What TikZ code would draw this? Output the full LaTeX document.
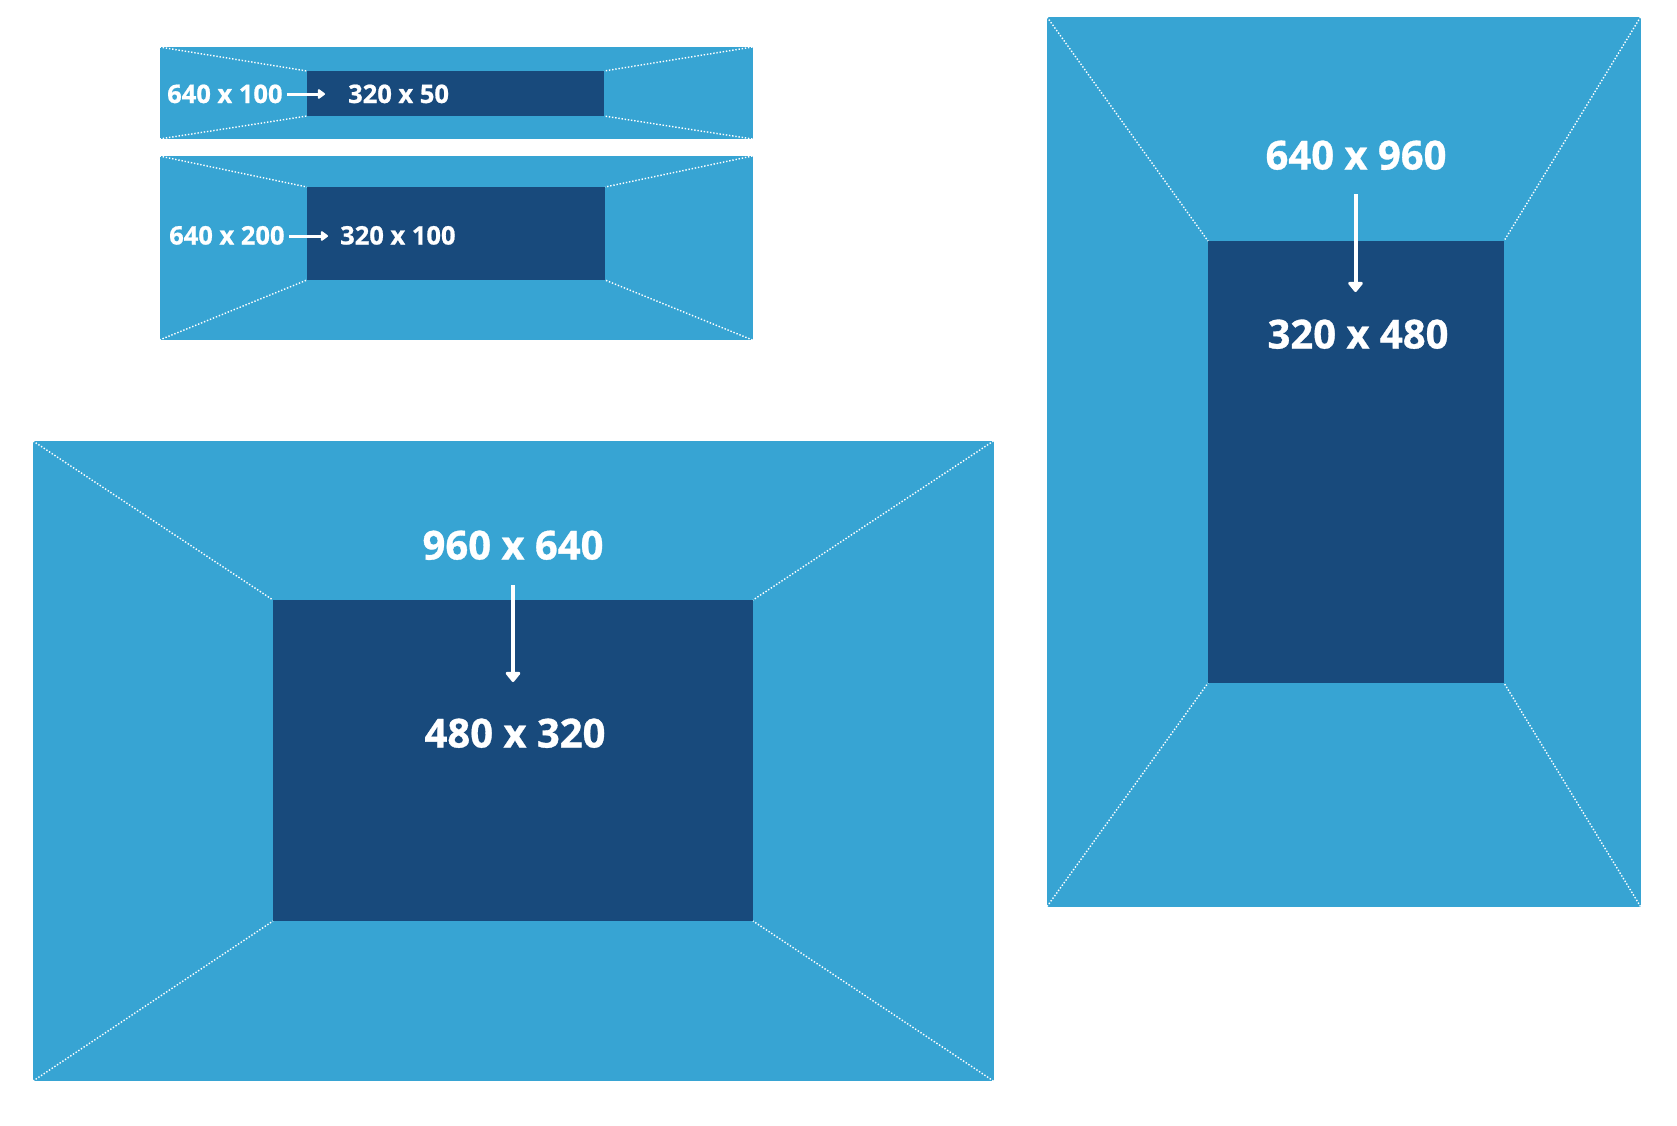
\documentclass[tikz,border=0pt]{standalone}
\usepackage{fontspec}
\setmainfont{Open Sans}[BoldFeatures={FakeBold=0.8}]
\usetikzlibrary{arrows.meta}
\definecolor{lightb}{RGB}{55,164,211}
\definecolor{darkb}{RGB}{24,74,124}
\tikzset{
  outerbox/.style={rectangle, fill=lightb, inner sep=0pt, outer sep=0pt},
  innerbox/.style={rectangle, fill=darkb, inner sep=0pt, outer sep=0pt},
  diag/.style={white, line width=1.4pt, dash pattern=on 1.4pt off 1.8pt},
  lbl/.style={text=white, inner sep=0pt},
  smalllbl/.style={lbl, font=\bfseries\fontsize{25.5}{30}\selectfont, anchor=base west},
  biglbl/.style={lbl, font=\bfseries\fontsize{40}{48}\selectfont, anchor=base},
  warrow/.style={white, line width=4pt, -{Triangle[length=11pt,width=17pt,round]}},
  swarrow/.style={white, line width=3pt, -{Triangle[length=8pt,width=11pt,round]}}
}
\begin{document}
\begin{tikzpicture}[x=1pt,y=-1pt]
\useasboundingbox (0,0) rectangle (1677,1125);
% banner 1
\node[outerbox, minimum width=593pt, minimum height=92pt] (b1) at (456,93) {};
\node[innerbox, minimum width=297pt, minimum height=45pt] (b1i) at (455.5,93.5) {};
% banner 2
\node[outerbox, minimum width=593pt, minimum height=184pt] (b2) at (456,248) {};
\node[innerbox, minimum width=298pt, minimum height=93pt] (b2i) at (456,233.5) {};
% big
\node[outerbox, minimum width=960.5pt, minimum height=640pt] (b3) at (513.25,761) {};
\node[innerbox, minimum width=480pt, minimum height=321pt] (b3i) at (513,760.5) {};
% right
\node[outerbox, minimum width=593.5pt, minimum height=889.5pt] (b4) at (1343.75,461.75) {};
\node[innerbox, minimum width=296pt, minimum height=442pt] (b4i) at (1356,462) {};
% diagonals
\foreach \o/\i in {b1/b1i,b2/b2i,b3/b3i,b4/b4i}{
  \draw[diag] (\o.north west) -- (\i.north west);
  \draw[diag] (\o.north east) -- (\i.north east);
  \draw[diag] (\o.south west) -- (\i.south west);
  \draw[diag] (\o.south east) -- (\i.south east);
}
% labels banner 1
\node[smalllbl] (t1a) at (167,103) {640 x 100};
\node[smalllbl] (t1b) at (348,103) {320 x 50};
\coordinate (a1s) at (287,94);
\coordinate (a1e) at (325,94);
\draw[swarrow] (a1s) -- (a1e);
% labels banner 2
\node[smalllbl] (t2a) at (169,244.5) {640 x 200};
\node[smalllbl] (t2b) at (340,244.5) {320 x 100};
\coordinate (a2s) at (289,236);
\coordinate (a2e) at (328,236);
\draw[swarrow] (a2s) -- (a2e);
% labels big
\node[biglbl] (t3a) at (513,559.5) {960 x 640};
\node[biglbl] (t3b) at (515,747.5) {480 x 320};
\coordinate (a3s) at (513,585);
\coordinate (a3e) at (513,682);
\draw[warrow] (a3s) -- (a3e);
% labels right
\node[biglbl] (t4a) at (1356,169.5) {640 x 960};
\node[biglbl] (t4b) at (1358,348.5) {320 x 480};
\coordinate (a4s) at (1355.5,194);
\coordinate (a4e) at (1355.5,292);
\draw[warrow] (a4s) -- (a4e);
\end{tikzpicture}
\end{document}
